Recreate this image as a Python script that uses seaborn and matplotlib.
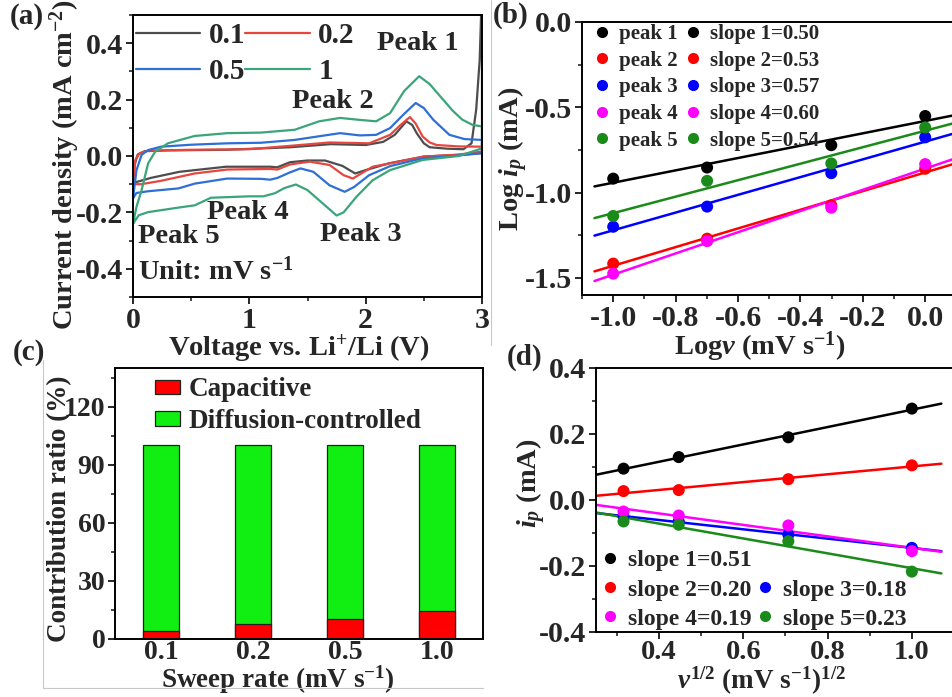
import numpy as np
import pandas as pd
import matplotlib
matplotlib.use("Agg")
import matplotlib.pyplot as plt
import seaborn as sns
from matplotlib.lines import Line2D
from matplotlib.patches import Patch
from matplotlib.ticker import MultipleLocator, FormatStrFormatter

# ---------------- data: (a) cyclic voltammograms ----------------
cv_labels = ["0.1", "0.2", "0.5", "1"]

v_up_01 = [0, 0.015, 0.04, 0.1, 0.3, 0.8, 1.35, 1.7, 2.0, 2.15, 2.25, 2.35, 2.4, 2.44, 2.5, 2.55, 2.7, 2.84, 2.91, 2.95, 2.98, 3.0]
i_up_01 = [-0.09, -0.03, 0.005, 0.017, 0.02, 0.022, 0.031, 0.042, 0.039, 0.05, 0.075, 0.123, 0.11, 0.08, 0.045, 0.031, 0.026, 0.024, 0.045, 0.164, 0.34, 0.6]
v_dn_01 = [3.0, 2.8, 2.5, 2.2, 2.0, 1.91, 1.8, 1.65, 1.5, 1.35, 1.24, 1.18, 0.8, 0.4, 0.15, 0.05, 0]
i_dn_01 = [0.01, 0.004, -0.002, -0.026, -0.05, -0.062, -0.035, -0.016, -0.016, -0.022, -0.040, -0.038, -0.038, -0.056, -0.078, -0.09, -0.095]

v_up_02 = [0, 0.02, 0.057, 0.13, 0.5, 1.0, 1.35, 1.69, 2.03, 2.21, 2.3, 2.38, 2.43, 2.49, 2.55, 2.61, 2.8, 3.0]
i_up_02 = [-0.1, -0.014, 0.01, 0.019, 0.022, 0.024, 0.036, 0.048, 0.045, 0.075, 0.11, 0.138, 0.115, 0.069, 0.048, 0.039, 0.034, 0.033]
v_dn_02 = [3.0, 2.8, 2.5, 2.21, 2.06, 1.95, 1.89, 1.81, 1.69, 1.52, 1.35, 1.24, 1.18, 0.81, 0.53, 0.24, 0.07, 0]
i_dn_02 = [0.016, 0.005, -0.002, -0.026, -0.038, -0.065, -0.08, -0.068, -0.032, -0.020, -0.030, -0.048, -0.046, -0.048, -0.062, -0.088, -0.1, -0.1]

v_up_05 = [0, 0.03, 0.074, 0.13, 0.24, 0.5, 0.81, 1.1, 1.39, 1.6, 1.78, 1.95, 2.09, 2.21, 2.32, 2.43, 2.5, 2.58, 2.72, 2.85, 3.0]
i_up_05 = [-0.15, -0.05, 0.004, 0.021, 0.033, 0.04, 0.045, 0.047, 0.057, 0.07, 0.081, 0.073, 0.075, 0.099, 0.145, 0.188, 0.17, 0.129, 0.075, 0.06, 0.057]
v_dn_05 = [3.0, 2.7, 2.49, 2.21, 2.03, 1.9, 1.82, 1.69, 1.55, 1.44, 1.35, 1.24, 1.18, 1.10, 0.81, 0.53, 0.39, 0.13, 0.03, 0]
i_dn_05 = [0.010, -0.002, -0.008, -0.036, -0.068, -0.11, -0.127, -0.104, -0.056, -0.044, -0.058, -0.078, -0.084, -0.081, -0.080, -0.098, -0.115, -0.125, -0.131, -0.15]

v_up_1 = [0, 0.03, 0.074, 0.13, 0.19, 0.3, 0.53, 0.81, 1.1, 1.39, 1.6, 1.78, 1.95, 2.09, 2.21, 2.33, 2.46, 2.55, 2.64, 2.75, 2.83, 2.92, 3.0]
i_up_1 = [-0.24, -0.18, -0.121, -0.026, 0.015, 0.045, 0.071, 0.081, 0.083, 0.093, 0.123, 0.135, 0.128, 0.123, 0.152, 0.23, 0.283, 0.255, 0.212, 0.16, 0.129, 0.11, 0.105]
v_dn_1 = [3.0, 2.8, 2.49, 2.21, 2.06, 1.92, 1.81, 1.75, 1.6, 1.5, 1.4, 1.3, 1.22, 1.12, 1.0, 0.67, 0.53, 0.39, 0.13, 0.05, 0]
i_dn_1 = [0.027, 0.0, -0.014, -0.05, -0.086, -0.145, -0.2, -0.211, -0.157, -0.121, -0.101, -0.114, -0.132, -0.143, -0.143, -0.148, -0.175, -0.183, -0.199, -0.21, -0.24]

# ---------------- data: (b) log ip vs log v ----------------
log_v = [-1.0, -0.699, -0.301, 0.0]
logip_peak1 = [-0.918, -0.853, -0.722, -0.551]
logip_peak2 = [-1.416, -1.27, -1.075, -0.86]
logip_peak3 = [-1.20, -1.082, -0.886, -0.676]
logip_peak4 = [-1.475, -1.284, -1.088, -0.833]
logip_peak5 = [-1.137, -0.931, -0.829, -0.618]
peak_names = ["peak 1", "peak 2", "peak 3", "peak 4", "peak 5"]
slopes_b = ["slope 1=0.50", "slope 2=0.53", "slope 3=0.57", "slope 4=0.60", "slope 5=0.54"]

# ---------------- data: (c) contribution ratio ----------------
sweep_rates = ["0.1", "0.2", "0.5", "1.0"]
capacitive = [4.3, 7.6, 10.2, 14.5]
diffusion = [95.7, 92.4, 89.8, 85.5]

# ---------------- data: (d) ip vs v^1/2 ----------------
sqrt_v = [0.316, 0.447, 0.707, 1.0]
ip_peak1 = [0.095, 0.13, 0.19, 0.277]
ip_peak2 = [0.027, 0.03, 0.063, 0.105]
ip_peak3 = [-0.05, -0.065, -0.105, -0.145]
ip_peak4 = [-0.035, -0.047, -0.077, -0.155]
ip_peak5 = [-0.065, -0.075, -0.125, -0.217]
slopes_d = ["slope 1=0.51", "slope 2=0.20", "slope 3=0.18", "slope 4=0.19", "slope 5=0.23"]

# ---------------- style ----------------
sns.set_style("ticks")
plt.rcParams.update({
    "font.family": ["Liberation Serif", "DejaVu Serif"],
    "font.weight": "bold",
    "axes.labelweight": "bold",
    "mathtext.fontset": "custom",
    "mathtext.rm": "Liberation Serif:bold",
    "mathtext.it": "Liberation Serif:italic:bold",
    "mathtext.bf": "Liberation Serif:bold",
    "axes.unicode_minus": False,
    "axes.linewidth": 1.4,
    "axes.edgecolor": "black",
})

cv_colors = ["#4d4d4d", "#e5473f", "#2e6fd6", "#3aa57a"]
pt_colors = ["#000000", "#ff0000", "#0000ff", "#ff00ff", "#1a8a1a"]

W, H = 953, 697
fig = plt.figure(figsize=(W / 100, H / 100), dpi=100)


def px_axes(left, top, right, bottom):
    return fig.add_axes([left / W, 1 - bottom / H, (right - left) / W, (bottom - top) / H])


def style_ax(ax, fs):
    for s in ax.spines.values():
        s.set_linewidth(1.4)
        s.set_color("black")
    ax.tick_params(which="major", direction="out", length=5, width=1.4, labelsize=fs,
                   top=False, right=False, pad=2)
    ax.tick_params(which="minor", direction="out", length=3, width=1.2, top=False, right=False)


# faint frame lines of the original composite image
for xs, ys in [([43, 43], [360, 688]), ([43, 483], [688, 688]), ([491, 491], [0, 345])]:
    fig.add_artist(Line2D([x / W for x in xs], [1 - y / H for y in ys], color="#c8c8c8", lw=0.8))

axA = px_axes(133, 15, 482, 297)
axB = px_axes(582, 22, 956.4, 295)
axC = px_axes(115, 368, 483, 639)
axD = px_axes(595.7, 368, 954, 632)

# ---------------- (a) ----------------
cv_sets = [(v_up_01, i_up_01, v_dn_01, i_dn_01),
           (v_up_02, i_up_02, v_dn_02, i_dn_02),
           (v_up_05, i_up_05, v_dn_05, i_dn_05),
           (v_up_1, i_up_1, v_dn_1, i_dn_1)]
for (vu, iu, vd, idn), c in zip(cv_sets, cv_colors):
    sns.lineplot(x=list(vu) + list(vd), y=list(iu) + list(idn), sort=False, estimator=None,
                 color=c, lw=1.6, ax=axA)
axA.set_xlim(0, 3)
axA.set_ylim(-0.5, 0.5)
axA.xaxis.set_major_locator(MultipleLocator(1))
axA.xaxis.set_minor_locator(MultipleLocator(0.5))
axA.yaxis.set_major_locator(MultipleLocator(0.2))
axA.yaxis.set_minor_locator(MultipleLocator(0.1))
axA.xaxis.set_major_formatter(FormatStrFormatter("%d"))
axA.yaxis.set_major_formatter(FormatStrFormatter("%.1f"))
style_ax(axA, 21.5)
axA.set_xlabel("Voltage vs. Li$^{+}$/Li (V)", fontsize=20.5)
axA.set_ylabel("Current density (mA cm$^{-2}$)", fontsize=20.5)
axA.xaxis.set_label_coords(0.476, -0.125)
axA.yaxis.set_label_coords(-0.146, 0.47)
hA = [Line2D([], [], color=c, lw=1.6) for c in cv_colors]
# two columns filled column-wise -> rows read "0.1 0.2" / "0.5 1"
axA.legend([hA[0], hA[2], hA[1], hA[3]], [cv_labels[0], cv_labels[2], cv_labels[1], cv_labels[3]],
           ncol=2, loc="upper left", bbox_to_anchor=(0.0, 0.985), frameon=False,
           fontsize=21, handlelength=2.2, handletextpad=0.3, columnspacing=0.0,
           labelspacing=0.32, borderpad=0.1, borderaxespad=0.0)
tk = dict(fontsize=20.5, fontweight="bold", va="baseline", ha="left")
axA.text(2.10, 0.375, "Peak 1", **tk)
axA.text(1.37, 0.171, "Peak 2", **tk)
axA.text(1.61, -0.302, "Peak 3", **tk)
axA.text(0.64, -0.225, "Peak 4", **tk)
axA.text(0.04, -0.308, "Peak 5", **tk)
axA.text(0.04, -0.437, "Unit: mV s$^{-1}$", **tk)

# ---------------- (b) ----------------
b_series = [logip_peak1, logip_peak2, logip_peak3, logip_peak4, logip_peak5]
axB.set_xlim(-1.06, 0.1)
for ys, c in zip(b_series, pt_colors):
    sns.regplot(x=np.array(log_v), y=np.array(ys), ax=axB, scatter=False, ci=None, truncate=False,
                color=c, line_kws=dict(lw=1.8, zorder=2))
for ys, c in zip(b_series, pt_colors):
    sns.scatterplot(x=log_v, y=ys, ax=axB, color=c, s=75, edgecolor="none", zorder=3, legend=False)
axB.set_xlim(-1.1, 0.1)
axB.set_ylim(-1.6, 0.0)
axB.xaxis.set_major_locator(MultipleLocator(0.2))
axB.xaxis.set_minor_locator(MultipleLocator(0.1))
axB.yaxis.set_major_locator(MultipleLocator(0.5))
axB.yaxis.set_minor_locator(MultipleLocator(0.25))
axB.xaxis.set_major_formatter(FormatStrFormatter("%.1f"))
axB.yaxis.set_major_formatter(FormatStrFormatter("%.1f"))
style_ax(axB, 21.5)
axB.set_xlabel("Log$\\mathit{v}$ (mV s$^{-1}$)", fontsize=20.5)
axB.set_ylabel("Log $\\mathit{i}_{\\mathit{p}}$ (mA)", fontsize=20.5)
axB.xaxis.set_label_coords(0.475, -0.125)
axB.yaxis.set_label_coords(-0.139, 0.5)
hB = [Line2D([], [], ls="none", marker="o", ms=8, color=c, mec="none") for c in pt_colors]
axB.legend(hB + hB, peak_names + slopes_b, ncol=2, loc="upper left", bbox_to_anchor=(0.02, 1.0),
           frameon=False, fontsize=15, handlelength=1.0, handletextpad=0.3, columnspacing=0.25,
           labelspacing=0.32, borderpad=0.1, borderaxespad=0.0)

# ---------------- (c) ----------------
dfc = pd.DataFrame({"rate": sweep_rates, "cap": capacitive, "diff": diffusion})
dfc["total"] = dfc["cap"] + dfc["diff"]
sns.barplot(data=dfc, x="rate", y="total", color="#11ee11", saturation=1, width=0.4,
            edgecolor="#222222", linewidth=0.9, ax=axC, order=sweep_rates)
sns.barplot(data=dfc, x="rate", y="cap", color="#ff0000", saturation=1, width=0.4,
            edgecolor="#222222", linewidth=0.9, ax=axC, order=sweep_rates)
axC.set_xlim(-0.5, 3.5)
axC.set_ylim(0, 140)
axC.yaxis.set_major_locator(MultipleLocator(30))
axC.yaxis.set_minor_locator(MultipleLocator(15))
style_ax(axC, 20)
axC.tick_params(axis="x", which="both", length=0, pad=1)
axC.set_xlabel("Sweep rate (mV s$^{-1}$)", fontsize=19.5)
axC.set_ylabel("Contribution ratio (%)", fontsize=19.5)
axC.xaxis.set_label_coords(0.443, -0.09)
axC.yaxis.set_label_coords(-0.117, 0.48)
hC = [Patch(facecolor="#ff0000", edgecolor="#222222", lw=0.9),
      Patch(facecolor="#11ee11", edgecolor="#222222", lw=0.9)]
axC.legend(hC, ["Capacitive", "Diffusion-controlled"], loc="upper left", bbox_to_anchor=(0.1, 0.975),
           frameon=False, fontsize=19.5, handlelength=0.95, handleheight=0.45, handletextpad=0.3,
           labelspacing=0.25, borderpad=0.1, borderaxespad=0.0)

# ---------------- (d) ----------------
d_series = [ip_peak1, ip_peak2, ip_peak3, ip_peak4, ip_peak5]
axD.set_xlim(0.25, 1.07)
for ys, c in zip(d_series, pt_colors):
    sns.regplot(x=np.array(sqrt_v), y=np.array(ys), ax=axD, scatter=False, ci=None, truncate=False,
                color=c, line_kws=dict(lw=1.8, zorder=2))
for ys, c in zip(d_series, pt_colors):
    sns.scatterplot(x=sqrt_v, y=ys, ax=axD, color=c, s=75, edgecolor="none", zorder=3, legend=False)
axD.set_xlim(0.25, 1.1)
axD.set_ylim(-0.4, 0.4)
axD.xaxis.set_major_locator(MultipleLocator(0.2))
axD.xaxis.set_minor_locator(MultipleLocator(0.1))
axD.yaxis.set_major_locator(MultipleLocator(0.2))
axD.yaxis.set_minor_locator(MultipleLocator(0.1))
axD.xaxis.set_major_formatter(FormatStrFormatter("%.1f"))
axD.yaxis.set_major_formatter(FormatStrFormatter("%.1f"))
style_ax(axD, 21.5)
axD.tick_params(axis="x", which="major", labelsize=20.5, pad=1)
axD.set_xlabel("$\\mathit{v}^{1/2}$ (mV s$^{-1}$)$^{1/2}$", fontsize=19.5)
axD.set_ylabel("$\\mathit{i}_{\\mathit{p}}$ (mA)", fontsize=20.5)
axD.xaxis.set_label_coords(0.464, -0.124)
axD.yaxis.set_label_coords(-0.133, 0.565)
hD = [Line2D([], [], ls="none", marker="o", ms=8, color=c, mec="none") for c in pt_colors]
blank = Line2D([], [], ls="none")
axD.legend([hD[0], hD[1], hD[3], blank, hD[2], hD[4]],
           [slopes_d[0], slopes_d[1], slopes_d[3], "", slopes_d[2], slopes_d[4]],
           ncol=2, loc="lower left", bbox_to_anchor=(0.0, 0.0), frameon=False, fontsize=17,
           handlelength=1.0, handletextpad=0.25, columnspacing=0.1, labelspacing=0.32,
           borderpad=0.1, borderaxespad=0.0)

# ---------------- panel letters ----------------
for txt, x, y in [("(a)", 10, 17), ("(b)", 493, 15), ("(c)", 13, 352), ("(d)", 507, 357)]:
    fig.text(x / W, 1 - y / H, txt, fontsize=21, fontweight="bold", ha="left", va="center")

fig.savefig("out.png", dpi=100)
